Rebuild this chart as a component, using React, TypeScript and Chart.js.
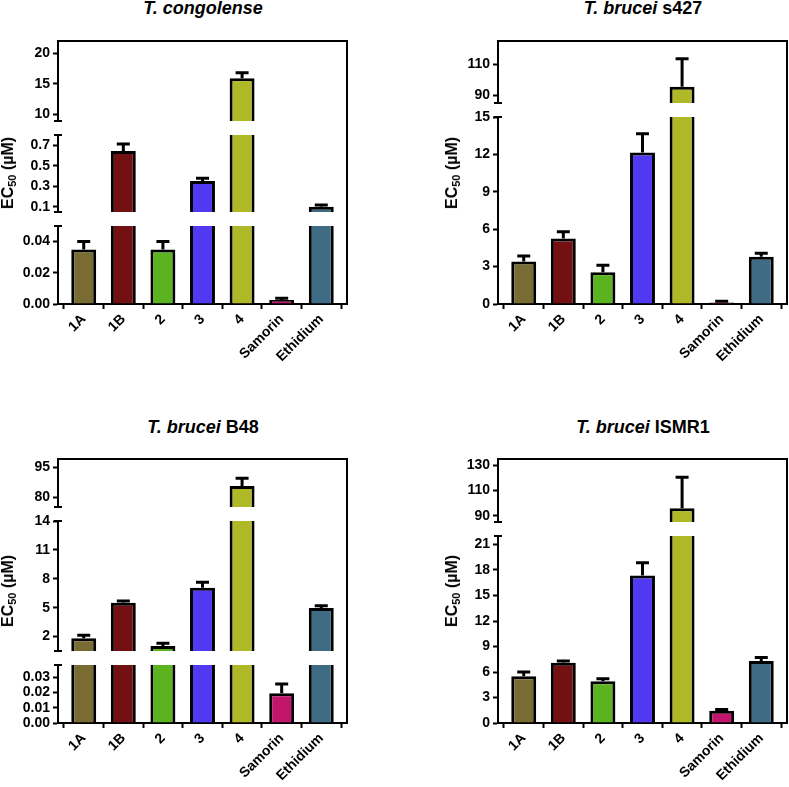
import React, { useEffect, useRef } from "react";
import { Chart, registerables } from "chart.js";

Chart.register(...registerables);

// ---------------- DATA ----------------
const categories = ["1A", "1B", "2", "3", "4", "Samorin", "Ethidium"];
const barColors = ["#786c32", "#731012", "#5bb320", "#5039f0", "#afb826", "#c2166c", "#3f6b85"];

// T. congolense
const congolenseValues = [0.035, 0.645, 0.035, 0.352, 15.9, 0.0025, 0.102];
const congolenseErrors = [0.005, 0.068, 0.005, 0.026, 0.9, 0.0012, 0.016];
const congolenseRanges = [[8.9, 22], [0.05, 0.8], [0, 0.05]];
const congolenseTicks = [[10, 15, 20], [0.1, 0.3, 0.5, 0.7], [0, 0.02, 0.04]];
const congolenseDecimals = [0, 1, 2];

// T. brucei s427
const s427Values = [3.4, 5.25, 2.55, 12.15, 95.5, 0.12, 3.8];
const s427Errors = [0.45, 0.55, 0.55, 1.5, 18, 0.1, 0.28];
const s427Ranges = [[85, 125], [0, 15]];
const s427Ticks = [[90, 110], [0, 3, 6, 9, 12, 15]];
const s427Decimals = [0, 0];

// T. brucei B48
const b48Values = [1.83, 5.52, 1.03, 7.08, 85.5, 0.0195, 4.97];
const b48Errors = [0.31, 0.18, 0.27, 0.56, 3.85, 0.006, 0.24];
const b48Ranges = [[75, 99], [0.5, 14], [0, 0.038]];
const b48Ticks = [[80, 95], [2, 5, 8, 11, 14], [0, 0.01, 0.02, 0.03]];
const b48Decimals = [0, 0, 2];

// T. brucei ISMR1
const ismr1Values = [5.5, 7.1, 4.9, 17.35, 96, 1.45, 7.3];
const ismr1Errors = [0.5, 0.2, 0.3, 1.5, 24.6, 0.15, 0.4];
const ismr1Ranges = [[85, 135], [0, 22]];
const ismr1Ticks = [[90, 110, 130], [0, 3, 6, 9, 12, 15, 18, 21]];
const ismr1Decimals = [0, 0];

// ---------------- LAYOUT ----------------
const FONT = "'Liberation Sans', Arial, Helvetica, sans-serif";
const AXIS_W = 58;
const PAD_R = 2;
const GAP = 14;
const PAD_TOP_FIRST = 10;
const PAD_BOTTOM = 10;
const X_H = 64;

type PanelDef = {
  italic: string;
  normal: string;
  plotLeft: number;
  plotRight: number;
  segAreas: number[][];
  titleX: number;
  titleBaseline: number;
  ylabelX: number;
  values: number[];
  errors: number[];
  ranges: number[][];
  ticks: number[][];
  decimals: number[];
};

const panels: PanelDef[] = [
  {
    italic: "T. congolense", normal: "", plotLeft: 58, plotRight: 347,
    segAreas: [[41, 121], [135, 212], [226, 304]], titleX: 203, titleBaseline: 14.5, ylabelX: 8,
    values: congolenseValues, errors: congolenseErrors, ranges: congolenseRanges, ticks: congolenseTicks, decimals: congolenseDecimals,
  },
  {
    italic: "T. brucei", normal: " s427", plotLeft: 498, plotRight: 787,
    segAreas: [[41, 103], [117, 304]], titleX: 643, titleBaseline: 14.5, ylabelX: 452,
    values: s427Values, errors: s427Errors, ranges: s427Ranges, ticks: s427Ticks, decimals: s427Decimals,
  },
  {
    italic: "T. brucei", normal: " B48", plotLeft: 58, plotRight: 347,
    segAreas: [[459, 507], [521, 651], [665, 723]], titleX: 203, titleBaseline: 433, ylabelX: 8,
    values: b48Values, errors: b48Errors, ranges: b48Ranges, ticks: b48Ticks, decimals: b48Decimals,
  },
  {
    italic: "T. brucei", normal: " ISMR1", plotLeft: 498, plotRight: 787,
    segAreas: [[459, 522], [536, 723]], titleX: 643, titleBaseline: 433, ylabelX: 452,
    values: ismr1Values, errors: ismr1Errors, ranges: ismr1Ranges, ticks: ismr1Ticks, decimals: ismr1Decimals,
  },
];

const errorBarPlugin = {
  id: "errorBars",
  afterDatasetsDraw(chart: any) {
    const { ctx, chartArea, scales } = chart;
    const y = scales.y;
    const meta = chart.getDatasetMeta(0);
    const ds: any = chart.data.datasets[0];
    const errs: number[] = ds.errors;
    ctx.save();
    ctx.beginPath();
    ctx.rect(chartArea.left, chartArea.top, chartArea.right - chartArea.left, chartArea.bottom - chartArea.top);
    ctx.clip();
    ctx.strokeStyle = "#000";
    ctx.lineWidth = 3;
    meta.data.forEach((bar: any, i: number) => {
      const v = ds.data[i].y;
      if (v === null || v === undefined) return;
      const e = errs[i];
      const y0 = y.getPixelForValue(v);
      const y1 = y.getPixelForValue(v + e);
      const cx = bar.x;
      ctx.beginPath();
      ctx.moveTo(cx, y0);
      ctx.lineTo(cx, y1);
      ctx.moveTo(cx - 6.5, y1);
      ctx.lineTo(cx + 6.5, y1);
      ctx.stroke();
    });
    ctx.restore();
  },
};

const framePlugin = {
  id: "brokenFrame",
  afterDraw(chart: any, _args: any, opts: any) {
    const { ctx, chartArea } = chart;
    const { left, right, top, bottom } = chartArea;
    ctx.save();
    ctx.strokeStyle = "#000";
    ctx.lineWidth = 2;
    ctx.beginPath();
    if (opts.isTop) {
      ctx.moveTo(left - 1, top);
      ctx.lineTo(right + 1, top);
    }
    ctx.moveTo(right, opts.isTop ? top : 0);
    ctx.lineTo(right, bottom);
    if (!opts.isTop) {
      ctx.moveTo(left - 4, top);
      ctx.lineTo(left + 4, top);
    }
    if (!opts.isBottom) {
      ctx.moveTo(left - 4, bottom);
      ctx.lineTo(left + 4, bottom);
    }
    ctx.stroke();
    ctx.restore();
  },
};

type SegProps = {
  panel: PanelDef;
  index: number;
};

function Segment({ panel, index }: SegProps) {
  const ref = useRef<HTMLCanvasElement | null>(null);
  const n = panel.segAreas.length;
  const isTop = index === 0;
  const isBottom = index === n - 1;
  const [areaTop, areaBottom] = panel.segAreas[index];
  const padTop = isTop ? PAD_TOP_FIRST : GAP;
  const padBottom = isBottom ? 0 : PAD_BOTTOM;
  const canvasLeft = panel.plotLeft - AXIS_W;
  const canvasTop = areaTop - padTop;
  const width = panel.plotRight + PAD_R - canvasLeft;
  const height = padTop + (areaBottom - areaTop) + (isBottom ? X_H : padBottom);

  useEffect(() => {
    if (!ref.current) return;
    const [min, max] = panel.ranges[index];
    const tickVals = panel.ticks[index];
    const dec = panel.decimals[index];
    const tickFont = { family: FONT, size: 14, weight: "bold" as const };
    const chart = new Chart(ref.current, {
      type: "bar",
      data: {
        datasets: [
          {
            // a bar that ends below this segment's floor is not visible in it
            data: panel.values.map((v, i) => ({ x: i, y: v < min ? null : v })),
            errors: panel.errors,
            backgroundColor: barColors,
            borderColor: "#000",
            borderWidth: 3,
            borderSkipped: "start",
            inflateAmount: 0,
            barPercentage: 0.63,
            categoryPercentage: 1,
            clip: 0,
          } as any,
        ],
      },
      options: {
        responsive: false,
        animation: false,
        events: [],
        layout: { padding: { top: padTop, bottom: padBottom, left: 0, right: PAD_R } },
        plugins: {
          legend: { display: false },
          tooltip: { enabled: false },
          title: { display: false },
          brokenFrame: { isTop, isBottom },
        } as any,
        scales: {
          x: {
            type: "linear",
            min: -0.65,
            max: 6.65,
            display: isBottom,
            offset: false,
            z: 1,
            grid: { display: true, drawOnChartArea: false, drawTicks: true, tickLength: 5, tickWidth: 2, color: "#000" },
            border: { display: true, width: 2, color: "#000" },
            ticks: {
              stepSize: 1,
              includeBounds: false,
              autoSkip: false,
              maxRotation: 45,
              minRotation: 45,
              padding: 2,
              color: "#000",
              font: tickFont,
              callback: (v: any) => (Number.isInteger(v) && categories[v] !== undefined ? categories[v] : ""),
            },
            afterFit: (s: any) => {
              s.height = isBottom ? X_H : 0;
              s.paddingLeft = 0;
              s.paddingRight = 0;
            },
          } as any,
          y: {
            type: "linear",
            min,
            max,
            grid: { display: true, drawOnChartArea: false, drawTicks: true, tickLength: 5, tickWidth: 2, color: "#000" },
            border: { display: true, width: 2, color: "#000" },
            ticks: {
              padding: 3,
              autoSkip: false,
              color: "#000",
              font: tickFont,
              callback: (v: any) => Number(v).toFixed(dec),
            },
            afterBuildTicks: (s: any) => {
              s.ticks = tickVals.map((v) => ({ value: v }));
            },
            afterFit: (s: any) => {
              s.width = AXIS_W;
              s.paddingTop = 0;
              s.paddingBottom = 0;
            },
          } as any,
        },
      },
      plugins: [errorBarPlugin, framePlugin],
    });
    return () => chart.destroy();
  }, [panel, index]);

  return (
    <canvas
      ref={ref}
      width={width}
      height={height}
      style={{ position: "absolute", left: canvasLeft, top: canvasTop, width, height }}
    />
  );
}

function Panel({ panel }: { panel: PanelDef }) {
  const first = panel.segAreas[0][0];
  const last = panel.segAreas[panel.segAreas.length - 1][1];
  const cy = (first + last) / 2;
  const titleSize = 18;
  const titleTop = panel.titleBaseline - (0.905 * titleSize - (0.117 * titleSize) / 2);
  return (
    <>
      {panel.segAreas.map((_, i) => (
        <Segment key={i} panel={panel} index={i} />
      ))}
      <div
        style={{
          position: "absolute",
          left: panel.titleX - 200,
          width: 400,
          top: titleTop,
          textAlign: "center",
          fontFamily: FONT,
          fontWeight: "bold",
          fontSize: titleSize,
          lineHeight: `${titleSize}px`,
          whiteSpace: "nowrap",
          color: "#000",
        }}
      >
        <span style={{ fontStyle: "italic" }}>{panel.italic}</span>
        {panel.normal}
      </div>
      <div
        style={{
          position: "absolute",
          left: panel.ylabelX,
          top: cy,
          transform: "translate(-50%, -50%) rotate(-90deg)",
          fontFamily: FONT,
          fontWeight: "bold",
          fontSize: 16,
          lineHeight: "16px",
          whiteSpace: "nowrap",
          color: "#000",
        }}
      >
        EC<sub style={{ fontSize: 11, verticalAlign: "-3px", lineHeight: 0 }}>50</sub> (µM)
      </div>
    </>
  );
}

export default function App() {
  return (
    <div
      style={{
        position: "absolute",
        left: 0,
        top: 0,
        width: 789,
        height: 787,
        overflow: "hidden",
        background: "#fff",
      }}
    >
      {panels.map((p, i) => (
        <Panel key={i} panel={p} />
      ))}
    </div>
  );
}
